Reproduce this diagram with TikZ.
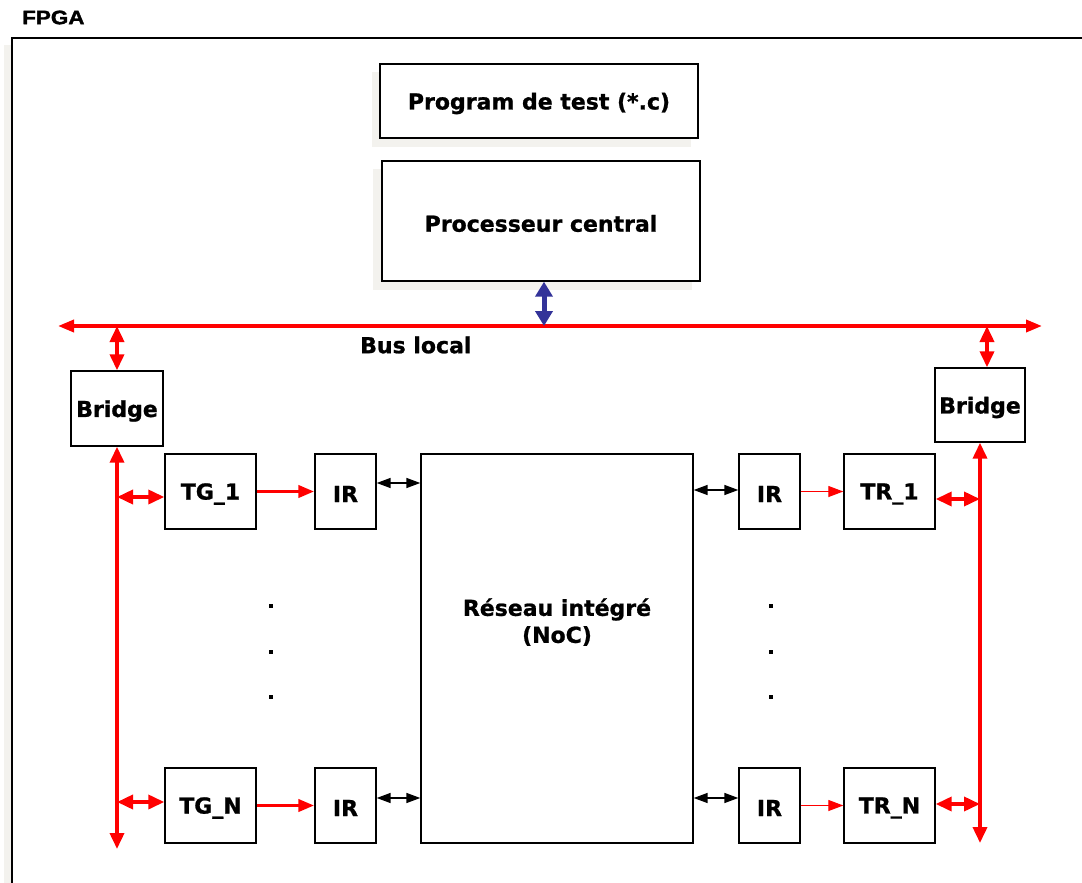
\documentclass[tikz,border=0pt]{standalone}
\usepackage{fontspec}
\setmainfont{DejaVu Sans}[BoldFeatures={FakeBold=1}]
\newfontfamily\fpgafont{Liberation Sans}[BoldFeatures={FakeBold=1.5}]
\usetikzlibrary{arrows.meta}
\definecolor{shadowgray}{HTML}{F3F2EE}
\definecolor{busred}{HTML}{FF0000}
\definecolor{busblue}{HTML}{333399}
\newcommand{\bxt}[1]{\raisebox{-2.5pt}[\height][\depth]{#1}}
\tikzset{
  box/.style={draw=black,line width=1.4pt,fill=white,inner sep=0pt,font=\fontsize{22}{26}\selectfont\bfseries},
  redbus/.style={draw=busred,line width=3.6pt,{Triangle[length=16pt,width=12pt]}-{Triangle[length=16pt,width=12pt]}},
  redlink/.style={draw=busred,line width=3.6pt,{Triangle[length=16pt,width=14pt]}-{Triangle[length=16pt,width=14pt]}},
  redthick/.style={draw=busred,line width=3.8pt,-{Triangle[length=16pt,width=12pt]}},
  redthin/.style={draw=busred,line width=1.2pt,-{Triangle[length=15pt,width=11pt]}},
  blklink/.style={draw=black,line width=1.5pt,{Triangle[length=14pt,width=10pt]}-{Triangle[length=14pt,width=10pt]}},
  bluelink/.style={draw=busblue,line width=5pt,{Triangle[length=15pt,width=17pt]}-{Triangle[length=15pt,width=17pt]}},
  lbl/.style={font=\fontsize{22}{26}\selectfont\bfseries,inner sep=0pt}
}
\begin{document}
\begin{tikzpicture}[x=1pt,y=-1pt]
\useasboundingbox (0,0) rectangle (1082,883);
\fill[white] (0,0) rectangle (1082,883);
% FPGA title
\node[anchor=west,inner sep=0pt,font=\fpgafont\fontsize{19.5}{20}\selectfont\bfseries] (fpga) at (22,17.5) {\scalebox{1.15}[1]{FPGA}};
% outer frame with shadow
\fill[shadowgray] (4,45) rectangle (12,883);
\draw[line width=1.2pt] (12,883) -- (12,38) -- (1082,38);
% shadows
\fill[shadowgray] (372,72) rectangle (691,147);
\fill[shadowgray] (373,169) rectangle (692,290);
% boxes
\node[box,minimum width=318pt,minimum height=74pt] (prog) at (539,101) {\bxt{Program de test (*.c)}};
\node[box,minimum width=318pt,minimum height=120pt] (proc) at (541,221) {\bxt{Processeur central}};
\node[box,minimum width=92pt,minimum height=75pt] (bridgeL) at (117,408.5) {\bxt{Bridge}};
\node[box,minimum width=90pt,minimum height=74pt] (bridgeR) at (980,405) {\bxt{Bridge}};
\node[box,minimum width=91pt,minimum height=75pt] (tg1) at (210.5,491.5) {\bxt{TG\_1}};
\node[box,minimum width=91pt,minimum height=75pt] (tgn) at (210.5,805.5) {\bxt{TG\_N}};
\node[box,minimum width=61pt,minimum height=75pt] (irL1) at (345.5,491.5) {\bxt{IR}};
\node[box,minimum width=61pt,minimum height=75pt] (irLn) at (345.5,805.5) {\bxt{IR}};
\node[box,minimum width=272pt,minimum height=389pt] (noc) at (557,648.5) {};
\node[lbl,align=center,font=\fontsize{22}{27}\selectfont\bfseries] (noclbl) at (557,622) {Réseau intégré\\(NoC)};
\node[box,minimum width=61pt,minimum height=75pt] (irR1) at (769.5,491.5) {\bxt{IR}};
\node[box,minimum width=61pt,minimum height=75pt] (irRn) at (769.5,805.5) {\bxt{IR}};
\node[box,minimum width=91pt,minimum height=75pt] (tr1) at (889.5,491.5) {\bxt{TR\_1}};
\node[box,minimum width=91pt,minimum height=75pt] (trn) at (889.5,805.5) {\bxt{TR\_N}};
% bus
\coordinate (busL) at (58,326);
\coordinate (busR) at (1042,326);
\coordinate (bpt) at (544,326);
\coordinate (rb) at (987,326);
\draw[redbus] (busL) -- (busR);
\node[lbl,anchor=west] (buslbl) at (360,345) {Bus local};
\draw[bluelink] (proc.south -| bpt) -- (bpt);
\draw[redlink] (bridgeL.north |- busL) -- (bridgeL.north);
\draw[redlink] (rb) -- (bridgeR.north -| rb);
% left vertical
\coordinate (lbot) at (117,849);
\draw[redlink] (bridgeL.south) -- (lbot);
\coordinate (lv1) at (117,497);
\coordinate (lvn) at (117,802);
\draw[redlink] (lv1) -- (tg1.west |- lv1);
\draw[redlink] (lvn) -- (tgn.west |- lvn);
% right vertical
\coordinate (rbot) at (980,843);
\draw[redlink] (bridgeR.south) -- (rbot);
\coordinate (rv1) at (980,499);
\coordinate (rvn) at (980,804);
\draw[redlink] (tr1.east |- rv1) -- (rv1);
\draw[redlink] (trn.east |- rvn) -- (rvn);
% TG -> IR
\draw[redthick] (tg1.east) -- (irL1.west);
\draw[redthick] (tgn.east) -- (irLn.west);
% IR <-> NoC
\draw[blklink] ([yshift=8.5pt]irL1.east) -- ([yshift=8.5pt]irL1.east -| noc.west);
\draw[blklink] ([yshift=7.5pt]irLn.east) -- ([yshift=7.5pt]irLn.east -| noc.west);
\draw[blklink] ([yshift=1.5pt]irR1.west -| noc.east) -- ([yshift=1.5pt]irR1.west);
\draw[blklink] ([yshift=7.5pt]irRn.west -| noc.east) -- ([yshift=7.5pt]irRn.west);
% IR -> TR
\draw[redthin] (irR1.east) -- (tr1.west);
\draw[redthin] (irRn.east) -- (trn.west);
% dots
\foreach \yy in {606,652,697} {
  \fill (268.5,\yy-2) rectangle +(4,4);
  \fill (768.5,\yy-2) rectangle +(4,4);
}
\end{tikzpicture}
\end{document}
